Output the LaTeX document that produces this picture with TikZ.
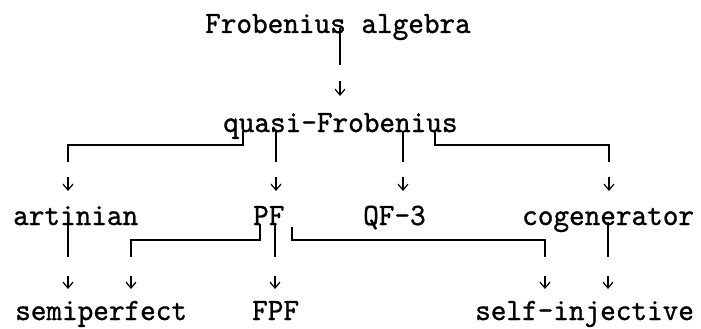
\documentclass[tikz,border=0pt]{standalone}
\usepackage{fontspec}
\usetikzlibrary{calc,arrows.meta}
% typewriter face, slightly emboldened and narrowed to a 15.6pt pitch
\newfontfamily\typerfont{lmmono10-regular.otf}[FakeBold=0.9,FakeStretch=0.96]
\begin{document}
\begin{tikzpicture}[x=1pt,y=-1pt,
  lbl/.style={inner sep=0pt,anchor=base west,font=\fontsize{31}{33}\selectfont\typerfont},
  wire/.style={line width=1.5pt},
  arr/.style={line width=1.2pt,-{Straight Barb[length=6pt,width=10pt,line width=1.2pt]}}]
\useasboundingbox (0,0) rectangle (701,329);

% labels, typed on a fixed-pitch grid
\node[lbl] (fa) at (205,33)  {Frobenius algebra};
\node[lbl] (qf) at (223,132) {quasi-Frobenius};
\node[lbl] (ar) at (13,225)  {artinian};
\node[lbl] (pf) at (253,225) {PF};
\node[lbl] (q3) at (363,225) {QF-3};
\node[lbl] (cg) at (522,225) {cogenerator};
\node[lbl] (se) at (15,320)  {semiperfect};
\node[lbl] (fp) at (252,320) {FPF};
\node[lbl] (si) at (475,320) {self-injective};

% Frobenius algebra -> quasi-Frobenius
\draw[wire] ($(fa.base west)+(135,-5)$) -- ($(fa.base west)+(135,32)$);
\draw[arr]  ($(qf.base west)+(117,-51)$) -- ($(qf.base west)+(117,-36)$);

% quasi-Frobenius -> artinian
\draw[wire] ($(qf.base west)+(20,-1)$) -- ++(0,14) -| ($(ar.base west)+(55,-63)$);
\draw[arr]  ($(ar.base west)+(55,-48)$) -- ($(ar.base west)+(55,-34)$);

% quasi-Frobenius -> PF
\draw[wire] ($(qf.base west)+(53,-1)$) -- ($(pf.base west)+(23,-63)$);
\draw[arr]  ($(pf.base west)+(23,-48)$) -- ($(pf.base west)+(23,-34)$);

% quasi-Frobenius -> QF-3
\draw[wire] ($(qf.base west)+(180,-1)$) -- ($(q3.base west)+(40,-63)$);
\draw[arr]  ($(q3.base west)+(40,-48)$) -- ($(q3.base west)+(40,-34)$);

% quasi-Frobenius -> cogenerator
\draw[wire] ($(qf.base west)+(212,-1)$) -- ++(0,14) -| ($(cg.base west)+(87,-63)$);
\draw[arr]  ($(cg.base west)+(87,-48)$) -- ($(cg.base west)+(87,-34)$);

% artinian -> semiperfect
\draw[wire] ($(ar.base west)+(55,-5)$) -- ($(se.base west)+(53,-63)$);
\draw[arr]  ($(se.base west)+(53,-44)$) -- ($(se.base west)+(53,-31)$);

% PF -> semiperfect
\draw[wire] ($(pf.base west)+(7,-1)$) -- ++(0,16) -| ($(se.base west)+(116,-63)$);
\draw[arr]  ($(se.base west)+(116,-44)$) -- ($(se.base west)+(116,-31)$);

% PF -> FPF
\draw[wire] ($(pf.base west)+(22,0)$) -- ($(fp.base west)+(23,-63)$);
\draw[arr]  ($(fp.base west)+(23,-44)$) -- ($(fp.base west)+(23,-31)$);

% PF -> self-injective
\draw[wire] ($(pf.base west)+(39,2)$) -- ++(0,13) -| ($(si.base west)+(70,-63)$);
\draw[arr]  ($(si.base west)+(70,-44)$) -- ($(si.base west)+(70,-31)$);

% cogenerator -> self-injective
\draw[wire] ($(cg.base west)+(86,-3)$) -- ($(si.base west)+(133,-63)$);
\draw[arr]  ($(si.base west)+(133,-44)$) -- ($(si.base west)+(133,-31)$);
\end{tikzpicture}
\end{document}
